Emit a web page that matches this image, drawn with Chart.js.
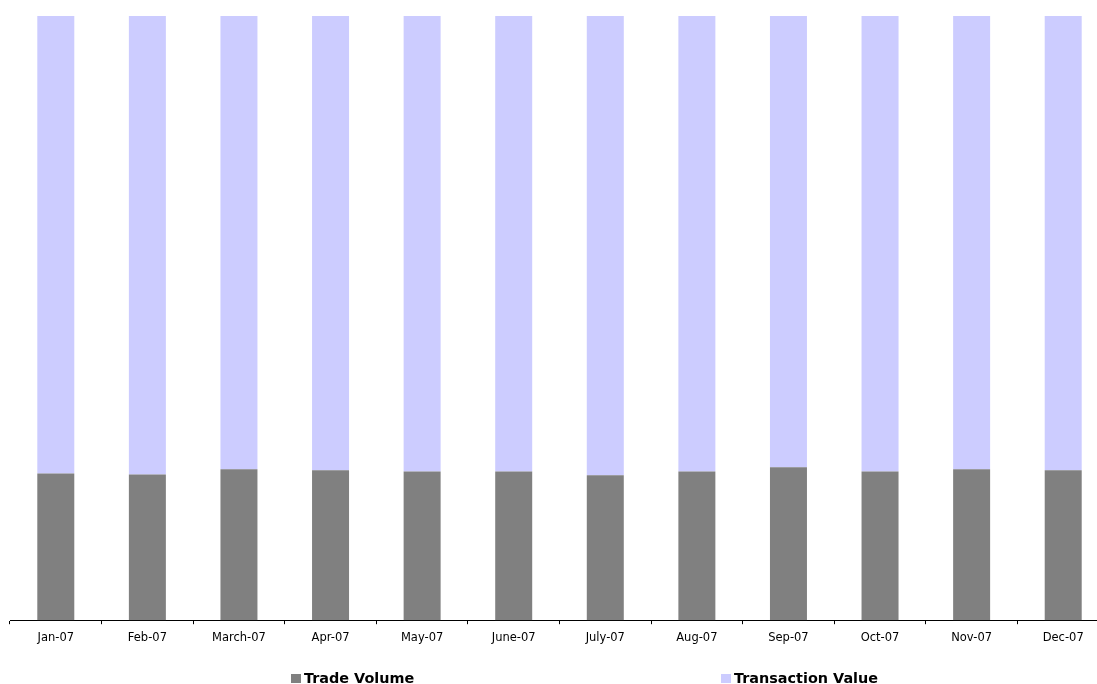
<!DOCTYPE html>
<html>
<head>
<meta charset="utf-8">
<script src="https://cdn.jsdelivr.net/npm/chart.js@4/dist/chart.umd.min.js"></script>
<style>
  html, body { margin: 0; padding: 0; background: #fff; overflow: hidden; }
  #wrap { position: relative; width: 1110px; height: 684px; }
  #chart { position: absolute; left: 0; top: 0; }
  .legend-item { position: absolute; top: 668px; height: 20px; display: flex; align-items: center;
    font-family: "DejaVu Sans", Verdana, sans-serif; font-weight: bold; font-size: 14.4px; color: #000; white-space: nowrap; }
  .legend-box { width: 10px; height: 9px; margin-right: 3px; }
</style>
</head>
<body>
<div id="wrap">
  <canvas id="chart" width="1110" height="684"></canvas>
  <div class="legend-item" style="left:291px"><span class="legend-box" style="background:#808080"></span>Trade Volume</div>
  <div class="legend-item" style="left:721px"><span class="legend-box" style="background:#CCCCFF"></span>Transaction Value</div>
</div>
<script>
// Month labels along the category axis
const months = ["Jan-07", "Feb-07", "March-07", "Apr-07", "May-07", "June-07",
                "July-07", "Aug-07", "Sep-07", "Oct-07", "Nov-07", "Dec-07"];

// Share of each month's total (percent)
const tradeVolume      = [24.3, 24.1, 25.0, 24.8, 24.6, 24.6, 24.0, 24.6, 25.3, 24.6, 25.0, 24.8];
const transactionValue = [75.7, 75.9, 75.0, 75.2, 75.4, 75.4, 76.0, 75.4, 74.7, 75.4, 75.0, 75.2];

const seriesNames = ["Trade Volume", "Transaction Value"];
const seriesColors = ["#808080", "#CCCCFF"];

new Chart(document.getElementById("chart"), {
  type: "bar",
  data: {
    labels: months,
    datasets: [
      { label: seriesNames[0], data: tradeVolume, backgroundColor: seriesColors[0],
        categoryPercentage: 1, barPercentage: 0.404 },
      { label: seriesNames[1], data: transactionValue, backgroundColor: seriesColors[1],
        categoryPercentage: 1, barPercentage: 0.404 }
    ]
  },
  options: {
    responsive: false,
    animation: false,
    layout: { padding: { left: 10, right: 1, top: 16, bottom: 32 } },
    plugins: { legend: { display: false }, tooltip: { enabled: false } },
    scales: {
      x: {
        stacked: true,
        offset: true,
        border: { display: true, color: "#000", width: 1 },
        grid: { offset: true, drawOnChartArea: false, drawTicks: true, tickLength: 4, color: "#000" },
        ticks: { color: "#000", padding: 7, maxRotation: 0, autoSkip: false,
                 font: { family: "DejaVu Sans", size: 11.5 } }
      },
      y: {
        stacked: true,
        display: false,
        min: 0,
        max: 100
      }
    }
  }
});
</script>
</body>
</html>
